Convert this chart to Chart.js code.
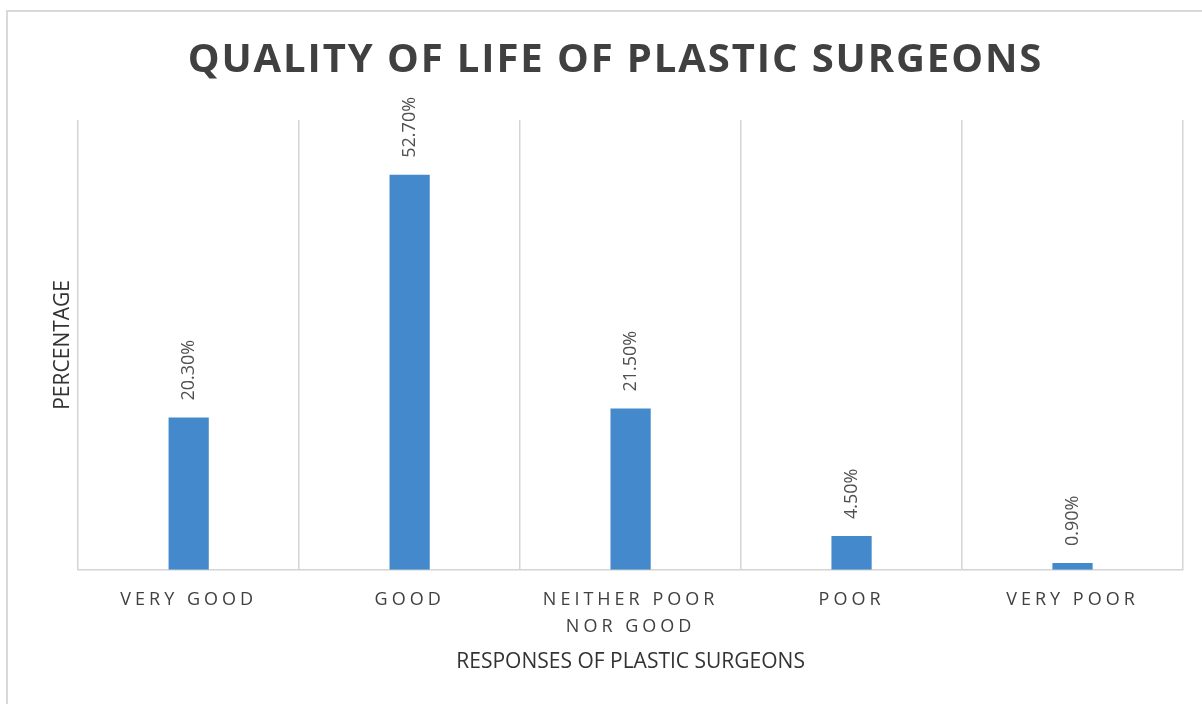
<!DOCTYPE html>
<html>
<head>
<meta charset="utf-8">
<script src="https://cdn.jsdelivr.net/npm/chart.js@4/dist/chart.umd.min.js"></script>
<style>
  body { margin: 0; background: #fff; }
  #frame { position: absolute; left: 6px; top: 10px; width: 1220px; height: 720px; border: 2px solid #d9d9d9; }
  #wrap { position: absolute; left: 0; top: 0; width: 1202px; height: 704px; }
</style>
</head>
<body>
<div id="frame"></div>
<div id="wrap"><canvas id="myChart"></canvas></div>
<script>
// data
const categories = ['VERY GOOD', 'GOOD', ['NEITHER POOR', 'NOR GOOD'], 'POOR', 'VERY POOR'];
const percentages = [20.3, 52.7, 21.5, 4.5, 0.9];
const yMin = 0;
const yMax = 60;

const textGrey = '#404040';

// letter spacing for title + x ticks (Chart.js has no option for it)
const spacingPlugin = {
    id: 'spacing',
    beforeDraw(chart) {
        const ctx = chart.ctx;
        const wrap = (obj, fn, sp) => {
            if (!obj || obj['_sp_' + fn]) return;
            const orig = obj[fn];
            obj[fn] = function (...args) {
                ctx.save();
                ctx.letterSpacing = sp;
                orig.apply(this, args);
                ctx.restore();
            };
            obj['_sp_' + fn] = true;
        };
        wrap(chart.titleBlock, 'draw', '1.9px');
        wrap(chart.scales.x, 'drawLabels', '4px');
    }
};

// rotated value labels above bars
const valueLabels = {
    id: 'valueLabels',
    afterDatasetsDraw(chart) {
        const ctx = chart.ctx;
        const meta = chart.getDatasetMeta(0);
        ctx.save();
        ctx.font = '18px "Open Sans"';
        ctx.fillStyle = '#505050';
        ctx.textAlign = 'left';
        ctx.textBaseline = 'middle';
        meta.data.forEach((bar, i) => {
            ctx.save();
            ctx.translate(bar.x, bar.y - 17);
            ctx.rotate(-Math.PI / 2);
            ctx.fillText(percentages[i].toFixed(2) + '%', 0, 0);
            ctx.restore();
        });
        ctx.restore();
    }
};

let myChart = new Chart(document.getElementById('myChart').getContext('2d'), {
    type: 'bar',
    data: {
        labels: categories,
        datasets: [{
            label: 'Percentage',
            data: percentages,
            backgroundColor: '#4389cb',
            borderWidth: 0,
            categoryPercentage: 1,
            barPercentage: 0.182
        }]
    },
    options: {
        responsive: true,
        maintainAspectRatio: false,
        animation: false,
        layout: { padding: { left: 48, right: 19, top: 0, bottom: 27 } },
        plugins: {
            legend: { display: false },
            tooltip: { enabled: false },
            title: {
                display: true,
                text: 'QUALITY OF LIFE OF PLASTIC SURGEONS',
                color: textGrey,
                font: { family: 'Open Sans', size: 40, weight: 'bold', lineHeight: 1.2 },
                padding: { top: 37, bottom: 35 }
            }
        },
        scales: {
            x: {
                grid: { display: true, offset: true, drawTicks: false, color: '#d4d4d4', lineWidth: 1.5 },
                border: { display: true, color: '#d4d4d4', width: 1.5 },
                ticks: {
                    color: textGrey,
                    padding: 17,
                    maxRotation: 0,
                    autoSkip: false,
                    font: { family: 'Open Sans', size: 18, lineHeight: 1.5 }
                },
                title: {
                    display: true,
                    text: 'RESPONSES OF PLASTIC SURGEONS',
                    color: '#333',
                    font: { family: 'Open Sans', size: 21, lineHeight: 1.2 },
                    padding: { top: -8, bottom: 2 }
                }
            },
            y: {
                min: yMin,
                max: yMax,
                grid: { display: false, drawTicks: false },
                border: { display: false },
                ticks: { display: false },
                title: {
                    display: true,
                    text: 'PERCENTAGE',
                    color: '#333',
                    font: { family: 'Open Sans', size: 21, lineHeight: 1.2 },
                    padding: { top: 2, bottom: 3 }
                }
            }
        }
    },
    plugins: [spacingPlugin, valueLabels]
});
</script>
</body>
</html>
